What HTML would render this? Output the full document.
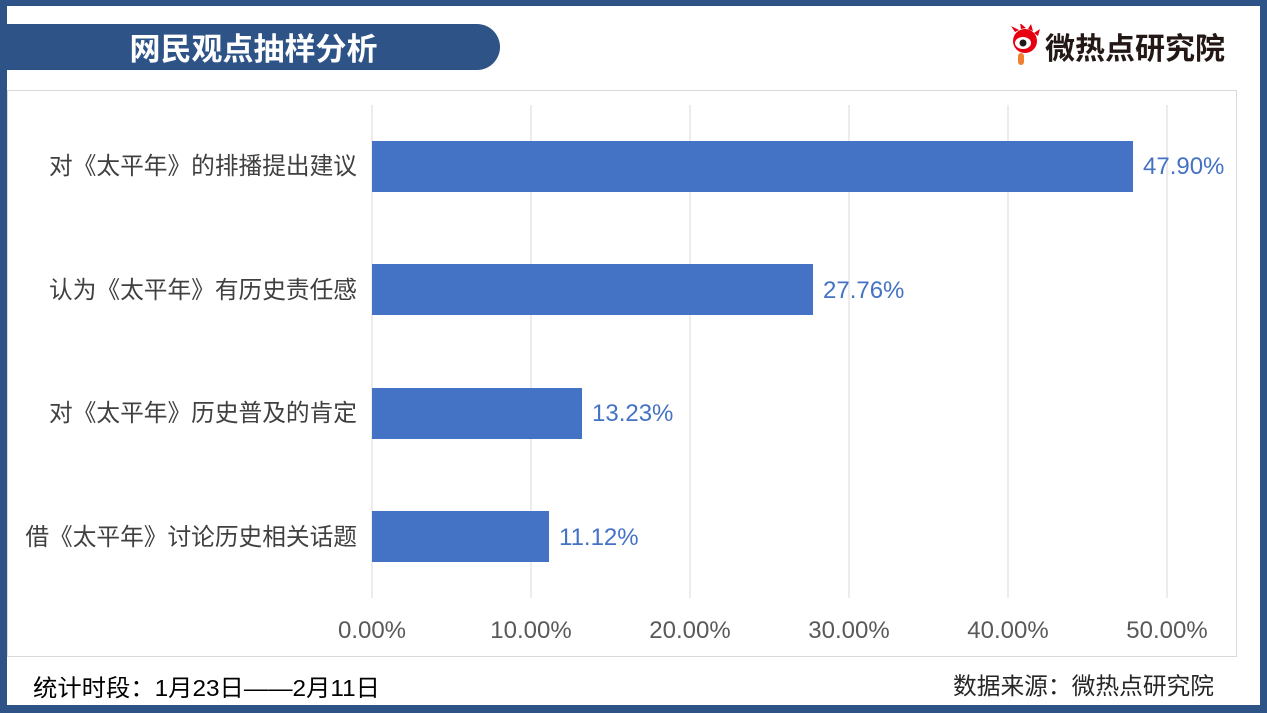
<!DOCTYPE html>
<html><head><meta charset="utf-8"><style>
body{margin:0;width:1267px;height:713px;background:#2e5386;position:relative;overflow:hidden;font-family:"Liberation Sans","Noto Sans CJK SC",sans-serif}
.inner{position:absolute;left:7px;top:6px;width:1253px;height:699px;background:#fff}
.t{position:absolute;white-space:nowrap}
</style></head><body>
<div class="inner"></div>
<div class="t" style="left:7px;top:24px;width:493px;height:46px;background:#2e5386;border-radius:0 23px 23px 0"></div>
<div class="t" style="left:7px;top:24px;width:493px;height:46px;line-height:46px;text-align:center;color:#fff;font-weight:bold;font-size:31px;font-family:'Noto Sans CJK SC',sans-serif">网民观点抽样分析</div>
<svg class="t" style="left:1005px;top:24px" width="40" height="42" viewBox="0 0 40 42">
<g fill="#e60012"><circle cx="20" cy="17" r="12"/>
<path d="M10 8 L6 2 L14 6 Z M16 5 L15 -1 L21 4 Z M23 5 L26 0 L28 7 Z M29 9 L35 5 L33 12 Z"/></g>
<ellipse cx="18" cy="19" rx="8" ry="6" fill="#fff"/><circle cx="18" cy="19" r="3.5" fill="#231815"/>
<rect x="13" y="29" width="6" height="12" rx="3" fill="#f08030"/></svg>
<div class="t" style="left:1045px;top:27px;font-size:30px;font-weight:bold;color:#231815;font-family:'Noto Sans CJK SC',sans-serif;line-height:38px">微热点研究院</div>
<div class="t" style="left:7px;top:90px;width:1230px;height:567px;border:1px solid #d9d9d9;box-sizing:border-box"></div>
<svg class="t" style="left:0;top:0" width="1267" height="713">
<g stroke="#d9d9d9" stroke-width="1">
<line x1="372" y1="105" x2="372" y2="598"/><line x1="531" y1="105" x2="531" y2="598"/><line x1="690" y1="105" x2="690" y2="598"/><line x1="849" y1="105" x2="849" y2="598"/><line x1="1008" y1="105" x2="1008" y2="598"/><line x1="1167" y1="105" x2="1167" y2="598"/></g>
<g fill="#4472c4">
<rect x="372" y="141" width="761" height="51"/>
<rect x="372" y="264" width="441" height="51"/>
<rect x="372" y="388" width="210" height="51"/>
<rect x="372" y="511" width="177" height="51"/></g>
<g font-family="Liberation Sans, sans-serif" font-size="24" fill="#4472c4">
<text x="1143" y="174">47.90%</text><text x="823" y="298">27.76%</text><text x="592" y="421">13.23%</text><text x="559" y="545">11.12%</text></g>
<g font-family="Liberation Sans, Noto Sans CJK SC, sans-serif" font-size="23.7" fill="#404040" text-anchor="end">
<text x="357" y="174">对《太平年》的排播提出建议</text>
<text x="357" y="298">认为《太平年》有历史责任感</text>
<text x="357" y="421">对《太平年》历史普及的肯定</text>
<text x="357" y="545">借《太平年》讨论历史相关话题</text></g>
<g font-family="Liberation Sans, sans-serif" font-size="24" fill="#595959" text-anchor="middle">
<text x="372" y="638">0.00%</text><text x="531" y="638">10.00%</text><text x="690" y="638">20.00%</text><text x="849" y="638">30.00%</text><text x="1008" y="638">40.00%</text><text x="1167" y="638">50.00%</text></g>
<g font-family="Liberation Sans, Noto Sans CJK SC, sans-serif" font-size="23.5" fill="#000">
<text x="33" y="696" textLength="347" lengthAdjust="spacingAndGlyphs">统计时段：1月23日——2月11日</text>
<text x="953" y="694" textLength="261" lengthAdjust="spacingAndGlyphs" fill="#262626">数据来源：微热点研究院</text></g>
</svg>
</body></html>
